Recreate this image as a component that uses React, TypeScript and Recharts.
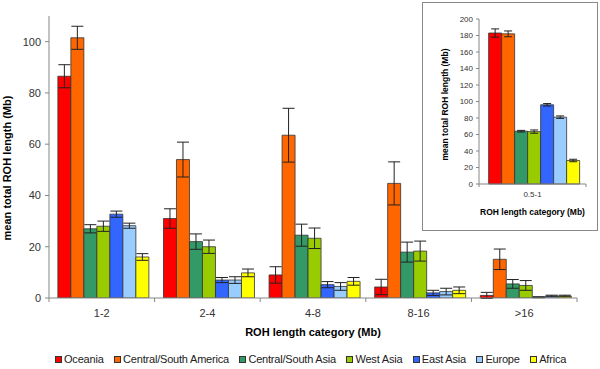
import React from 'react';
import { BarChart, Bar, XAxis, YAxis, ErrorBar, Label } from 'recharts';

const categories = ['1-2', '2-4', '4-8', '8-16', '>16'];
const seriesNames = ['Oceania', 'Central/South America', 'Central/South Asia', 'West Asia', 'East Asia', 'Europe', 'Africa'];
const seriesColors = ['#FF0000', '#FF6600', '#339966', '#99CC00', '#3366FF', '#99CCFF', '#FFFF00'];

const oceania = [86.5, 31, 9, 4.3, 1.0];
const oceaniaErr = [4.5, 3.8, 3.2, 3, 1.2];
const csAmerica = [101.5, 54, 63.5, 44.7, 15.1];
const csAmericaErr = [4.5, 6.8, 10.5, 8.4, 4];
const csAsia = [27, 22, 24.5, 17.9, 5.5];
const csAsiaErr = [1.6, 3, 4.3, 3.9, 1.7];
const westAsia = [28, 20, 23.3, 18.3, 4.9];
const westAsiaErr = [2, 2.6, 4, 3.9, 1.9];
const eastAsia = [32.7, 7, 5.2, 2, 0.3];
const eastAsiaErr = [1.2, 1, 1.2, 1, 0.2];
const europe = [28.2, 7, 4.5, 2.5, 0.8];
const europeErr = [1, 1.3, 1.5, 1.3, 0.3];
const africa = [16, 9.8, 6.5, 3, 0.8];
const africaErr = [1.3, 1.5, 1.5, 1.3, 0.3];

const mainTicks = [0, 20, 40, 60, 80, 100];

const insetCategories = ['0.5-1'];
const insetValues = [183, 182, 64, 63.5, 96, 81, 28.5];
const insetErrors = [5, 3.5, 1, 2, 1.5, 1.5, 1.5];
const insetTicks = [0, 20, 40, 60, 80, 100, 120, 140, 160, 180, 200];

const mainSeries = [oceania, csAmerica, csAsia, westAsia, eastAsia, europe, africa];
const mainErrors = [oceaniaErr, csAmericaErr, csAsiaErr, westAsiaErr, eastAsiaErr, europeErr, africaErr];

const mainData = categories.map((c, i) => {
  const row: any = { cat: c };
  mainSeries.forEach((s, k) => {
    row['s' + k] = s[i];
    row['e' + k] = mainErrors[k][i];
  });
  return row;
});

const insetData = insetCategories.map((c) => {
  const row: any = { cat: c };
  insetValues.forEach((v, k) => {
    row['s' + k] = v;
    row['e' + k] = insetErrors[k];
  });
  return row;
});

const FONT = '"Liberation Sans", Arial, sans-serif';
const AXIS = '#868686';

const makeTick = (fontSize: number, dy: number, tickLen: number) => (props: any) => {
  const { x, y, payload, index, visibleTicksCount, width } = props;
  const n = visibleTicksCount || 1;
  const band = (width || 0) / n;
  const axisY = y;
  return (
    <g>
      <line x1={x - band / 2} x2={x - band / 2} y1={axisY} y2={axisY + tickLen} stroke={AXIS} />
      {index === n - 1 && (
        <line x1={x + band / 2} x2={x + band / 2} y1={axisY} y2={axisY + tickLen} stroke={AXIS} />
      )}
      <text x={x} y={axisY + dy} textAnchor="middle" fontSize={fontSize} fill="#333" fontFamily={FONT}>
        {payload.value}
      </text>
    </g>
  );
};

const MainTick = makeTick(11, 19, 4);
const InsetTick = makeTick(8, 13, 3);

const bars = (errWidth: number) =>
  seriesNames.map((name, k) => (
    <Bar key={name} dataKey={'s' + k} name={name} fill={seriesColors[k]} stroke="#333" strokeWidth={0.8} isAnimationActive={false}>
      <ErrorBar dataKey={'e' + k} width={errWidth} stroke="#222" strokeWidth={1} />
    </Bar>
  ));

export default function App() {
  return (
    <div style={{ position: 'fixed', left: 0, top: 0, width: 600, height: 369, background: '#fff', fontFamily: FONT }}>
      <BarChart
        width={600}
        height={369}
        data={mainData}
        margin={{ top: 16, right: 23, left: 0, bottom: 31 }}
        barCategoryGap="8.4%"
        barGap={0}
      >
        <XAxis
          dataKey="cat"
          height={40}
          stroke={AXIS}
          tickLine={false}
          tickSize={0}
          tickMargin={0}
          tick={MainTick}
          interval={0}
        >
          <Label
            value="ROH length category (Mb)"
            position="insideBottom"
            offset={2}
            style={{ fontSize: 11, fontWeight: 'bold', fill: '#000', fontFamily: FONT }}
          />
        </XAxis>
        <YAxis
          width={49}
          domain={[0, 110]}
          ticks={mainTicks}
          stroke={AXIS}
          tickSize={4}
          tickMargin={4}
          tick={{ fontSize: 11, fill: '#333', fontFamily: FONT }}
          allowDataOverflow
        >
          <Label
            content={(p: any) => {
              const vb = p.viewBox;
              const cx = vb.x + 11;
              const cy = vb.y + vb.height / 2 + 11;
              return (
                <text x={cx} y={cy} transform={`rotate(-90 ${cx} ${cy})`} textAnchor="middle" fontSize={11} fontWeight="bold" fill="#000" fontFamily={FONT}>
                  mean total ROH length (Mb)
                </text>
              );
            }}
          />
        </YAxis>
        {bars(6)}
      </BarChart>

      <div style={{ position: 'absolute', left: 422, top: 2, width: 174, height: 227, border: '1px solid #888', background: '#fff' }}>
        <BarChart
          width={174}
          height={227}
          data={insetData}
          margin={{ top: 16, right: 11, left: 0, bottom: 18 }}
          barCategoryGap="9%"
          barGap={0}
        >
          <XAxis
            dataKey="cat"
            height={28}
            stroke={AXIS}
            tickLine={false}
            tickSize={0}
            tickMargin={0}
            tick={InsetTick}
            interval={0}
          >
            <Label
              value="ROH length category (Mb)"
              position="insideBottom"
              offset={-3}
              style={{ fontSize: 8.5, fontWeight: 'bold', fill: '#000', fontFamily: FONT }}
            />
          </XAxis>
          <YAxis
            width={56}
            domain={[0, 200]}
            ticks={insetTicks}
            stroke={AXIS}
            tickSize={3}
            tickMargin={3}
            tick={{ fontSize: 8, fill: '#333', fontFamily: FONT }}
          >
            <Label
              content={(p: any) => {
                const vb = p.viewBox;
                const cx = vb.x + 25;
                const cy = vb.y + vb.height / 2 + 3;
                return (
                  <text x={cx} y={cy} transform={`rotate(-90 ${cx} ${cy})`} textAnchor="middle" fontSize={8.5} fontWeight="bold" fill="#000" fontFamily={FONT}>
                    mean total ROH length (Mb)
                  </text>
                );
              }}
            />
          </YAxis>
          {bars(4)}
        </BarChart>
      </div>

      <div style={{ position: 'absolute', left: 55, top: 353, display: 'flex', alignItems: 'center', fontSize: 11, color: '#222', whiteSpace: 'nowrap' }}>
        {seriesNames.map((name, k) => (
          <div key={name} style={{ display: 'flex', alignItems: 'center', marginRight: 10.5 }}>
            <span style={{ display: 'inline-block', width: 5, height: 5, background: seriesColors[k], border: '1px solid #333', marginRight: 2 }} />
            <span style={{ letterSpacing: -0.2 }}>{name}</span>
          </div>
        ))}
      </div>
    </div>
  );
}
